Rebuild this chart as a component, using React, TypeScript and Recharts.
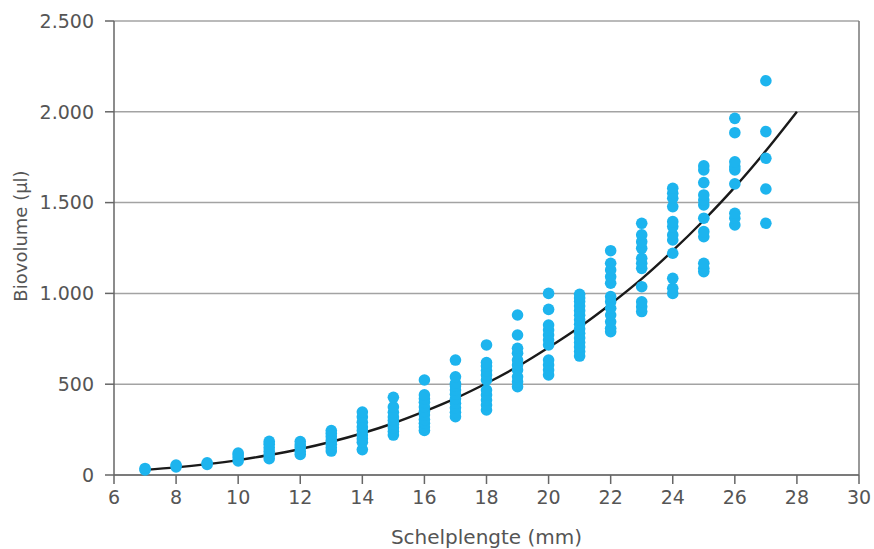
import React from 'react';
import { ComposedChart, Scatter, Line, XAxis, YAxis, CartesianGrid, ReferenceLine, Label } from 'recharts';

const shellLengths = [7, 8, 9, 10, 11, 12, 13, 14, 15, 16, 17, 18, 19, 20, 21, 22, 23, 24, 25, 26, 27];
const biovolumes: number[][] = [
  [28, 36],
  [45, 55],
  [58, 67],
  [77, 95, 110, 121],
  [90, 110, 130, 150, 170, 185],
  [113, 130, 150, 165, 184],
  [132, 150, 170, 190, 210, 228, 245],
  [140, 180, 200, 220, 245, 265, 290, 320, 347],
  [220, 240, 260, 280, 300, 320, 345, 375, 428],
  [245, 265, 285, 305, 330, 350, 375, 400, 420, 441, 523],
  [321, 345, 370, 395, 420, 445, 468, 490, 505, 541, 633],
  [358, 385, 413, 441, 468, 523, 551, 575, 600, 619, 716],
  [486, 514, 541, 578, 606, 633, 670, 698, 771, 881],
  [551, 578, 606, 633, 716, 743, 771, 798, 826, 912, 1000],
  [655, 680, 705, 730, 755, 780, 805, 830, 855, 880, 905, 930, 955, 975, 995],
  [789, 808, 844, 881, 918, 954, 982, 1056, 1092, 1129, 1166, 1235],
  [900, 927, 954, 1037, 1138, 1166, 1193, 1248, 1285, 1322, 1386],
  [1000, 1028, 1083, 1221, 1294, 1322, 1368, 1395, 1478, 1524, 1551, 1579],
  [1120, 1138, 1166, 1312, 1340, 1414, 1487, 1514, 1542, 1610, 1680, 1702],
  [1377, 1414, 1441, 1603, 1680, 1698, 1725, 1885, 1964],
  [1386, 1575, 1744, 1891, 2171],
];

const fitLengths = [7, 8, 9, 10, 11, 12, 13, 14, 15, 16, 17, 18, 19, 20, 21, 22, 23, 24, 25, 26, 27, 28];
const fitValues = [28, 42, 60, 82, 110, 143, 183, 230, 285, 350, 422, 505, 597, 702, 815, 942, 1080, 1235, 1403, 1585, 1785, 2000];

const xTicks = [6, 8, 10, 12, 14, 16, 18, 20, 22, 24, 26, 28, 30];
const yTicks = [0, 500, 1000, 1500, 2000, 2500];

const xTitle = 'Schelplengte (mm)';
const yTitle = 'Biovolume (µl)';

const scatterData = shellLengths.flatMap((x, i) => biovolumes[i].map((y) => ({ x, y })));
const fitData = fitLengths.map((x, i) => ({ x, y: fitValues[i] }));

const FONT = '"DejaVu Sans", sans-serif';
const TEXT = '#555555';
const DOT = '#1DB4EE';

const fmt = (v: number) => String(v).replace(/\B(?=(\d{3})+(?!\d))/g, '.');

const Dot = (props: any) => <circle cx={props.cx} cy={props.cy} r={5.8} fill={DOT} />;

export default function App() {
  return (
    <div style={{ position: 'absolute', left: 0, top: 0, width: 874, height: 549, background: '#fff' }}>
      <ComposedChart width={874} height={549} margin={{ top: 21, right: 15, left: 0, bottom: 0 }}>
        <CartesianGrid vertical={false} stroke="#a3a3a3" strokeWidth={1.5} />
        <ReferenceLine x={30} stroke="#777" strokeWidth={1.5} />
        <XAxis
          type="number"
          dataKey="x"
          domain={[6, 30]}
          ticks={xTicks}
          height={74}
          tickSize={9}
          tickMargin={7}
          stroke="#666"
          strokeWidth={1.5}
          tick={{ fill: TEXT, fontSize: 19, fontFamily: FONT }}
        >
          <Label
            content={() => (
              <text x={486.5} y={544} textAnchor="middle" fill={TEXT} fontSize={20} fontFamily={FONT}>
                {xTitle}
              </text>
            )}
          />
        </XAxis>
        <YAxis
          type="number"
          dataKey="y"
          domain={[0, 2500]}
          ticks={yTicks}
          width={114}
          tickSize={9}
          tickMargin={11}
          stroke="#666"
          strokeWidth={1.5}
          tickFormatter={fmt}
          tick={{ fill: TEXT, fontSize: 19, fontFamily: FONT }}
        >
          <Label
            content={() => (
              <text x={27} y={236} transform="rotate(-90 27 236)" textAnchor="middle" fill={TEXT} fontSize={18} fontFamily={FONT}>
                {yTitle}
              </text>
            )}
          />
        </YAxis>
        <Scatter data={scatterData} dataKey="y" shape={Dot} isAnimationActive={false} />
        <Line data={fitData} dataKey="y" type="monotone" stroke="#1a1a1a" strokeWidth={2.4} dot={false} activeDot={false} isAnimationActive={false} />
      </ComposedChart>
    </div>
  );
}
